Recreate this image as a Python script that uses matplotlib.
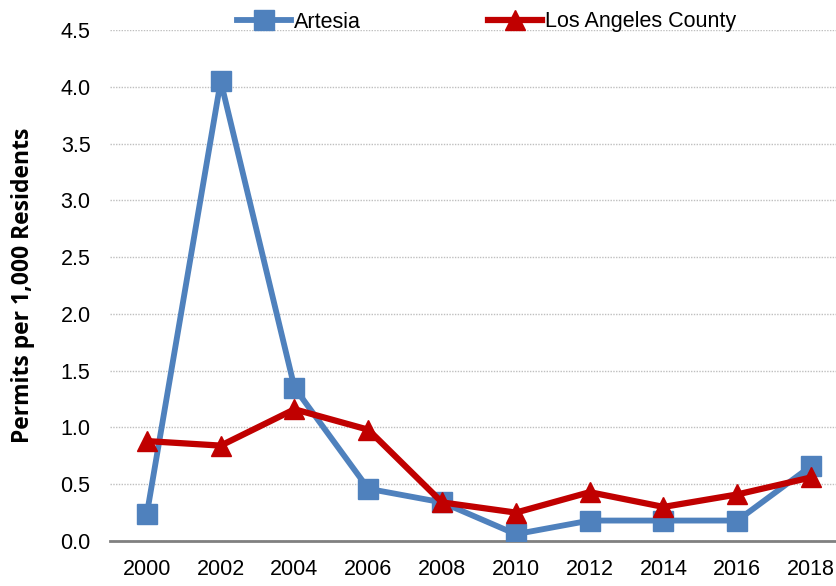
import matplotlib
matplotlib.use("Agg")
import matplotlib.pyplot as plt

# ── Data ──────────────────────────────────────────
years = [2000, 2002, 2004, 2006, 2008, 2010, 2012, 2014, 2016, 2018]
artesia = [0.24, 4.05, 1.35, 0.46, 0.34, 0.06, 0.18, 0.18, 0.18, 0.66]
la_county = [0.88, 0.84, 1.16, 0.98, 0.34, 0.25, 0.43, 0.30, 0.41, 0.56]
yticks = [0.0, 0.5, 1.0, 1.5, 2.0, 2.5, 3.0, 3.5, 4.0, 4.5]

BLUE = "#4F81BD"
RED = "#C00000"
sans = ["Liberation Sans", "DejaVu Sans"]

fig = plt.figure(figsize=(8.36, 5.86), dpi=100)
# axes run a little past the right edge of the figure, like the reference crop
ax = fig.add_axes([110 / 836, 45 / 586, 738 / 836, 511 / 586])

ax.plot(years, artesia, color=BLUE, lw=4.2, marker="s", ms=14,
        label="Artesia", zorder=3)
ax.plot(years, la_county, color=RED, lw=4.5, marker="^", ms=14,
        label="Los Angeles County", zorder=4)

ax.set_xlim(1999, 2019)
ax.set_ylim(0, 4.5)
ax.set_xticks(years)
ax.set_xticklabels([str(y) for y in years], family=sans, fontsize=15.5)
ax.set_yticks(yticks)
ax.set_yticklabels([f"{v:.1f}" for v in yticks], family=sans, fontsize=15.5)
ax.tick_params(axis="both", length=0)
ax.tick_params(axis="x", pad=13)
ax.tick_params(axis="y", pad=14)

ax.grid(axis="y", color="#BFBFBF", ls=(0, (1, 1)), lw=1)
ax.set_axisbelow(True)
for s in ("left", "right", "top"):
    ax.spines[s].set_visible(False)
ax.spines["bottom"].set_color("#808080")
ax.spines["bottom"].set_linewidth(2)

ax.set_ylabel("Permits per 1,000 Residents", family=["Open Sans", "DejaVu Sans"],
              fontweight="bold", fontsize=16.5, labelpad=18)

leg = fig.legend(loc="center left", bbox_to_anchor=(237 / 836, 1 - 22 / 586), ncol=2,
                 frameon=False, prop={"family": sans, "size": 15.5},
                 handlelength=2.5, handletextpad=0.15, columnspacing=5.9,
                 borderpad=0, borderaxespad=0)

fig.savefig("out.png", dpi=100)
